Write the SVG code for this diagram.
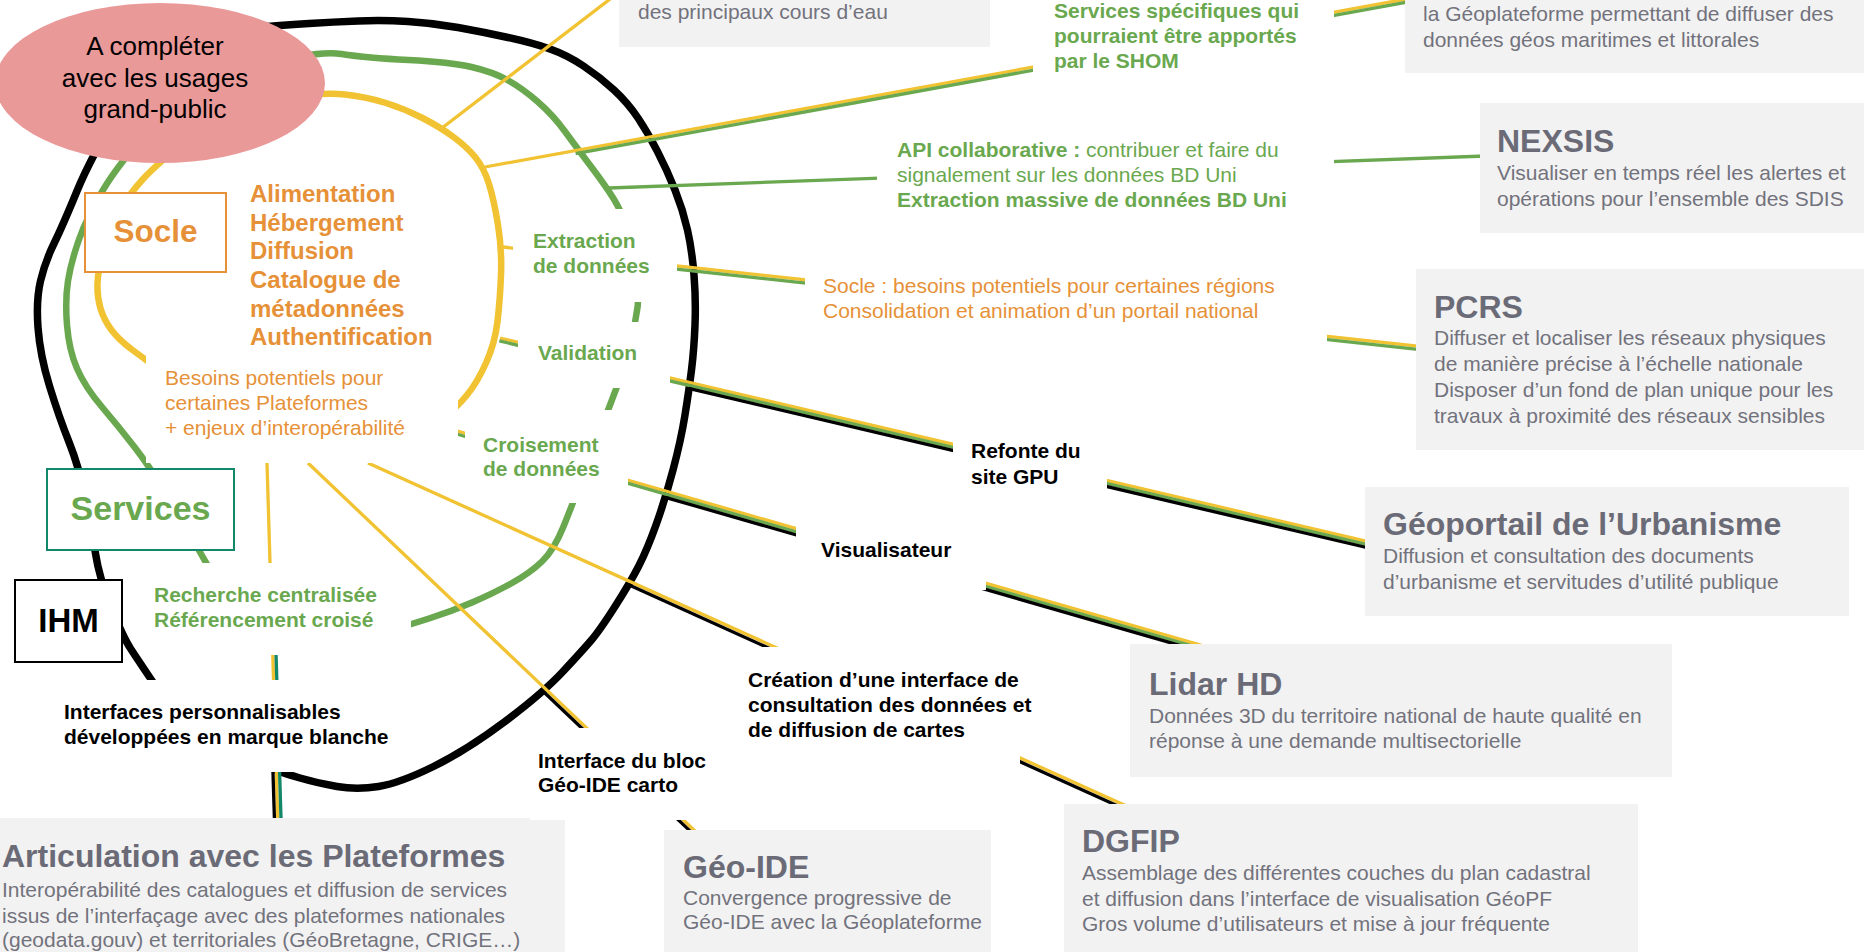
<svg xmlns="http://www.w3.org/2000/svg" width="1864" height="952" viewBox="0 0 1864 952">
<style>
text{font-family:"Liberation Sans",Arial,sans-serif}
.box{fill:#F2F2F2}
.gt{fill:#6B6B77;font-size:32px;font-weight:bold}
.gb{fill:#72727D;font-size:21px}
.lg{fill:#6AA84F;font-size:21px;font-weight:bold}
.lgr{fill:#6AA84F;font-size:21px}
.lo{fill:#E69138;font-size:21px}
.lob{fill:#E69138;font-size:24px;font-weight:bold}
.lk{fill:#000;font-size:21px;font-weight:bold}
.bg{fill:#fff}
.loop{fill:none;stroke-width:6.5;stroke-linejoin:round}
.loop.k{stroke-width:7.5}
.ln{fill:none;stroke-width:3.3}
.y{stroke:#F1C232}.g{stroke:#6AA84F}.k{stroke:#000}.tl{stroke:#12876A}
</style>
<rect width="1864" height="952" fill="#fff"/>
<g id="connectors">
<path class="loop k" d="M165,700 L151.5,680 Q138,660 130.5,648.5 Q123,637 111,607 Q99,577 95.5,553.5 Q92,530 85.5,498.5 Q79,467 69,442 Q59,417 49.5,386 Q40,355 38,327.5 Q36,300 40.5,281 Q45,262 54,243.5 Q63,225 77,191 Q91,157 120.5,108.5 Q150,60 200,44 Q250,28 267.5,26.5 Q285,25 309,23.5 Q333,22 358,21 Q383,20 408,21.5 Q433,23 458,27.5 Q483,32 508,37.5 Q533,43 550,49 Q567,55 583.5,66 Q600,77 614,90 Q628,103 638,118 Q648,133 657.5,151.5 Q667,170 675,190 Q683,210 687.5,230 Q692,250 694,275 Q696,300 695,325 Q694,350 691.5,370 Q689,390 685,415 Q681,440 673,470 Q665,500 656,525 Q647,550 638.5,566.5 Q630,583 615,606.5 Q600,630 591.5,640 Q583,650 563,671.5 Q543,693 505,721.5 Q467,750 433.5,766.5 Q400,783 378.5,786.5 Q357,790 337,786.5 Q317,783 300,778 Q283,773 277.5,770.5 L272,768"/>
<path class="loop g" d="M215,577 L210.5,570 Q206,563 195.5,544 Q185,525 167.5,496 Q150,467 134.5,447 Q119,427 102,407 Q85,387 77,368.5 Q69,350 67,325 Q65,300 68,281 Q71,262 79,239.5 Q87,217 103,190 Q119,163 154.5,124 Q190,85 253,67.5 Q316,50 341.5,54 Q367,58 408.5,60 Q450,62 471.5,67 Q493,72 507.5,80 Q522,88 537.5,101.5 Q553,115 565,131.5 Q577,148 591,166.5 Q605,185 613.5,198.5 Q622,212 629,233.5 Q636,255 638,277.5 Q640,300 635,322.5 Q630,345 623.5,366.5 Q617,388 608.5,409 Q600,430 592.5,450 Q585,470 579,486.5 Q573,503 563.5,526.5 Q554,550 542,561.5 Q530,573 512,583 Q494,593 472,602.5 Q450,612 427.5,619 L405,626"/>
<path class="loop y" d="M180,385 L163,372.5 Q146,360 132.5,350 Q119,340 111.5,330 Q104,320 100.5,308.5 Q97,297 97.5,283.5 Q98,270 103,250 Q108,230 119,211.5 Q130,193 144,178 Q158,163 194,134 Q230,105 276.5,98.5 Q323,92 345,94.5 Q367,97 386,103 Q405,109 422.5,118 Q440,127 453.5,137 Q467,147 475.5,157.5 Q484,168 489,184 Q494,200 498,225 Q502,250 501,275 Q500,300 497.5,321.5 Q495,343 486,363 Q477,383 467,395 Q457,407 448.5,413.5 L440,420"/>
<line class="ln y" x1="442" y1="128" x2="614" y2="-4"/>
<line class="ln y" x1="485" y1="167" x2="1412" y2="-2"/>
<line class="ln g" x1="575.6" y1="153.7" x2="1412.6" y2="1.1"/>
<line class="ln g" x1="609" y1="188" x2="1485" y2="156"/>
<line class="ln y" x1="503" y1="247" x2="1420" y2="346.4"/>
<line class="ln g" x1="560" y1="256.5" x2="1420" y2="349.7"/>
<line class="ln y" x1="500" y1="338" x2="1368" y2="541.7"/>
<line class="ln g" x1="499.3" y1="340.9" x2="1367.3" y2="544.6"/>
<line class="ln k" x1="688.6" y1="388.4" x2="1366.6" y2="547.5"/>
<line class="ln y" x1="440" y1="426" x2="1204" y2="646.2"/>
<line class="ln g" x1="439.2" y1="429" x2="1203.2" y2="649"/>
<line class="ln k" x1="665.3" y1="497.3" x2="1202.3" y2="651.9"/>
<line class="ln y" x1="368" y1="463" x2="1127" y2="806.3"/>
<line class="ln k" x1="628.6" y1="584.7" x2="1125.6" y2="809.5"/>
<line class="ln y" x1="308" y1="463" x2="697" y2="833"/>
<line class="ln k" x1="544.6" y1="692.8" x2="694.6" y2="835.4"/>
<line class="ln y" x1="267" y1="463" x2="277.9" y2="825"/>
<line class="ln tl" x1="274.1" y1="590" x2="281.2" y2="825"/>
<line class="ln k" x1="272.6" y1="760" x2="274.6" y2="825"/>
</g>

<g id="box-cours-eau">
<rect class="box" x="619" y="-20" width="371" height="67"/>
<text class="gb" x="638" y="19">des principaux cours d’eau</text>
</g>
<g id="box-maritime">
<rect class="box" x="1405" y="-20" width="470" height="93"/>
<text class="gb" x="1423" y="21">la Géoplateforme permettant de diffuser des</text>
<text class="gb" x="1423" y="47">données géos maritimes et littorales</text>
</g>
<g id="box-nexsis">
<rect class="box" x="1480" y="103" width="390" height="130"/>
<text class="gt" x="1497" y="152">NEXSIS</text>
<text class="gb" x="1497" y="180">Visualiser en temps réel les alertes et</text>
<text class="gb" x="1497" y="206">opérations pour l’ensemble des SDIS</text>
</g>
<g id="box-pcrs">
<rect class="box" x="1416" y="269" width="460" height="181"/>
<text class="gt" x="1434" y="318">PCRS</text>
<text class="gb" x="1434" y="345">Diffuser et localiser les réseaux physiques</text>
<text class="gb" x="1434" y="371">de manière précise à l’échelle nationale</text>
<text class="gb" x="1434" y="397">Disposer d’un fond de plan unique pour les</text>
<text class="gb" x="1434" y="423">travaux à proximité des réseaux sensibles</text>
</g>
<g id="box-gpu">
<rect class="box" x="1365" y="487" width="484" height="129"/>
<text class="gt" x="1383" y="535">Géoportail de l’Urbanisme</text>
<text class="gb" x="1383" y="563">Diffusion et consultation des documents</text>
<text class="gb" x="1383" y="589">d’urbanisme et servitudes d’utilité publique</text>
</g>
<g id="box-lidar">
<rect class="box" x="1130" y="644" width="542" height="133"/>
<text class="gt" x="1149" y="695">Lidar HD</text>
<text class="gb" x="1149" y="723">Données 3D du territoire national de haute qualité en</text>
<text class="gb" x="1149" y="748">réponse à une demande multisectorielle</text>
</g>
<g id="box-dgfip">
<rect class="box" x="1064" y="804" width="574" height="160"/>
<text class="gt" x="1082" y="852">DGFIP</text>
<text class="gb" x="1082" y="880">Assemblage des différentes couches du plan cadastral</text>
<text class="gb" x="1082" y="906">et diffusion dans l’interface de visualisation GéoPF</text>
<text class="gb" x="1082" y="931">Gros volume d’utilisateurs et mise à jour fréquente</text>
</g>
<g id="box-geoide">
<rect class="box" x="664" y="830" width="327" height="130"/>
<text class="gt" x="683" y="878">Géo-IDE</text>
<text class="gb" x="683" y="905">Convergence progressive de</text>
<text class="gb" x="683" y="929">Géo-IDE avec la Géoplateforme</text>
</g>
<g id="box-articulation">
<rect class="box" x="-5" y="818" width="570" height="140"/>
<text class="gt" x="2" y="867">Articulation avec les Plateformes</text>
<text class="gb" x="2" y="897">Interopérabilité des catalogues et diffusion de services</text>
<text class="gb" x="2" y="923">issus de l’interfaçage avec des plateformes nationales</text>
<text class="gb" x="2" y="947">(geodata.gouv) et territoriales (GéoBretagne, CRIGE…)</text>
</g>

<g id="label-extraction">
<rect class="bg" x="513" y="209" width="164" height="93"/>
<text class="lg" x="533" y="248">Extraction</text>
<text class="lg" x="533" y="273">de données</text>
</g>
<g id="label-validation">
<rect class="bg" x="518" y="322" width="152" height="66"/>
<text class="lg" x="538" y="360">Validation</text>
</g>
<g id="label-croisement">
<rect class="bg" x="465" y="410" width="163" height="93"/>
<text class="lg" x="483" y="452">Croisement</text>
<text class="lg" x="483" y="476">de données</text>
</g>
<g id="label-besoins">
<rect class="bg" x="146" y="352" width="312" height="111"/>
<text class="lo" x="165" y="385">Besoins potentiels pour</text>
<text class="lo" x="165" y="410">certaines Plateformes</text>
<text class="lo" x="165" y="435">+ enjeux d’interopérabilité</text>
</g>
<g id="label-recherche">
<rect class="bg" x="150" y="563" width="261" height="92"/>
<text class="lg" x="154" y="602">Recherche centralisée</text>
<text class="lg" x="154" y="627">Référencement croisé</text>
</g>
<g id="label-interfaces">
<rect class="bg" x="55" y="680" width="345" height="92"/>
<text class="lk" x="64" y="719">Interfaces personnalisables</text>
<text class="lk" x="64" y="744">développées en marque blanche</text>
</g>
<g id="label-interface-bloc">
<rect class="bg" x="530" y="728" width="160" height="92"/>
<text class="lk" x="538" y="768">Interface du bloc</text>
<text class="lk" x="538" y="792">Géo-IDE carto</text>
</g>
<g id="label-creation">
<rect class="bg" x="740" y="647" width="280" height="118"/>
<text class="lk" x="748" y="687">Création d’une interface de</text>
<text class="lk" x="748" y="712">consultation des données et</text>
<text class="lk" x="748" y="737">de diffusion de cartes</text>
</g>
<g id="label-visualisateur">
<rect class="bg" x="796" y="525" width="190" height="65"/>
<text class="lk" x="821" y="557">Visualisateur</text>
</g>
<g id="label-refonte">
<rect class="bg" x="953" y="425" width="154" height="80"/>
<text class="lk" x="971" y="458">Refonte du</text>
<text class="lk" x="971" y="484">site GPU</text>
</g>
<g id="label-socle-besoins">
<rect class="bg" x="805" y="268" width="522" height="80"/>
<text class="lo" x="823" y="293">Socle : besoins potentiels pour certaines régions</text>
<text class="lo" x="823" y="318">Consolidation et animation d’un portail national</text>
</g>
<g id="label-api">
<rect class="bg" x="877" y="138" width="457" height="80"/>
<text class="lgr" x="897" y="157"><tspan font-weight="bold">API collaborative :</tspan> contribuer et faire du</text>
<text class="lgr" x="897" y="182">signalement sur les données BD Uni</text>
<text class="lg" x="897" y="207">Extraction massive de données BD Uni</text>
</g>
<g id="label-shom">
<rect class="bg" x="1033" y="-5" width="301" height="85"/>
<text class="lg" x="1054" y="18">Services spécifiques qui</text>
<text class="lg" x="1054" y="43">pourraient être apportés</text>
<text class="lg" x="1054" y="68">par le SHOM</text>
</g>

<g id="socle-items">
<text class="lob" x="250" y="202">Alimentation</text>
<text class="lob" x="250" y="231">Hébergement</text>
<text class="lob" x="250" y="259">Diffusion</text>
<text class="lob" x="250" y="288">Catalogue de</text>
<text class="lob" x="250" y="317">métadonnées</text>
<text class="lob" x="250" y="345">Authentification</text>
</g>
<g id="node-socle">
<rect x="85" y="193" width="141" height="79" fill="#fff" stroke="#E69138" stroke-width="2"/>
<text x="155.5" y="242" text-anchor="middle" font-size="31.5" font-weight="bold" fill="#E69138">Socle</text>
</g>
<g id="node-services">
<rect x="47" y="469" width="187" height="81" fill="#fff" stroke="#12876A" stroke-width="2"/>
<text x="140.5" y="520" text-anchor="middle" font-size="34" font-weight="bold" fill="#6AA84F">Services</text>
</g>
<g id="node-ihm">
<rect x="15" y="580" width="107" height="82" fill="#fff" stroke="#000" stroke-width="2"/>
<text x="68.5" y="632" text-anchor="middle" font-size="33" font-weight="bold" fill="#000">IHM</text>
</g>
<g id="node-grand-public">
<ellipse cx="160" cy="83" rx="165" ry="80" fill="#EA9999"/>
<text x="155" y="55" text-anchor="middle" font-size="26" fill="#000">A compléter</text>
<text x="155" y="87" text-anchor="middle" font-size="26" fill="#000">avec les usages</text>
<text x="155" y="118" text-anchor="middle" font-size="26" fill="#000">grand-public</text>
</g>
</svg>
